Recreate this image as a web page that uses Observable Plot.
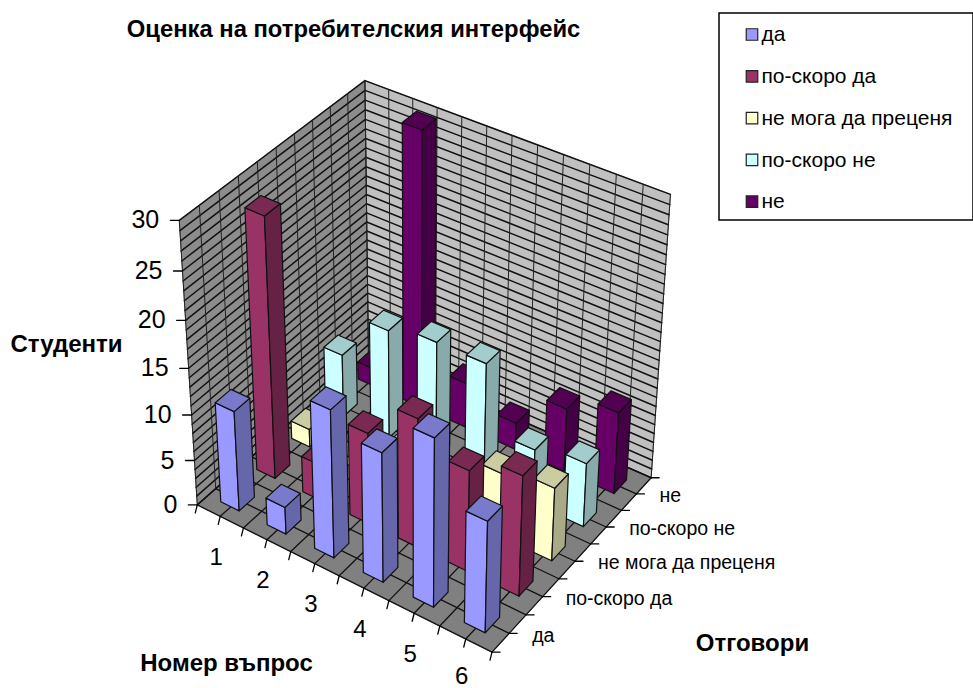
<!DOCTYPE html>
<html><head><meta charset="utf-8">
<script src="https://cdn.jsdelivr.net/npm/d3@7"></script>
<script src="https://cdn.jsdelivr.net/npm/@observablehq/plot@0.6"></script>
<style>html,body{margin:0;padding:0;background:#fff}svg{display:block}</style>
</head><body><div id="chart"></div>
<script>
const questions = ["1","2","3","4","5","6"];
const answers = ["да","по-скоро да","не мога да преценя","по-скоро не","не"];
const yes       = [11, 3, 16, 14, 18, 12];
const ratherYes = [28, 4, 10, 14, 11, 13];
const cannotSay = [2, 1, 4, 3, 7, 8];
const ratherNo  = [7, 12, 13, 13, 6, 7];
const no        = [2, 30, 5, 3, 7, 9];
const series = [yes, ratherYes, cannotSay, ratherNo, no];
const valueTicks = [0,5,10,15,20,25,30];
const colors = ["#9999FF","#993366","#FFFFCC","#CCFFFF","#660066"];
const topColors = ["#7A7ACC","#7A2952","#CCCCA3","#A3CCCC","#520052"];
const sideColors = ["#6666AA","#662244","#AAAA88","#88AAAA","#440044"];
const nU = questions.length, nV = answers.length, nW = 30;

// camera calibrated from the cube corners of the reference (unit cube -> pixels)
const calib = [
  [0,0,0,198,503],[1,0,0,491,653],[1,1,0,652,475],[0,1,0,366,355],
  [0,0,1,178,220],[1,1,1,669,195],[0,1,1,366,79]
];
function solveCamera(pts){
  const A=[],b=[];
  for(const [X,Y,Z,x,y] of pts){
    A.push([X,Y,Z,1,0,0,0,0,-x*X,-x*Y,-x*Z]);b.push(x);
    A.push([0,0,0,0,X,Y,Z,1,-y*X,-y*Y,-y*Z]);b.push(y);
  }
  const n=11,M=[];
  for(let i=0;i<n;i++){
    M.push(new Array(n+1).fill(0));
    for(let j=0;j<n;j++)for(let k=0;k<A.length;k++)M[i][j]+=A[k][i]*A[k][j];
    for(let k=0;k<A.length;k++)M[i][n]+=A[k][i]*b[k];
  }
  for(let c=0;c<n;c++){
    let p=c;for(let r=c+1;r<n;r++)if(Math.abs(M[r][c])>Math.abs(M[p][c]))p=r;
    [M[c],M[p]]=[M[p],M[c]];
    for(let r=0;r<n;r++)if(r!==c){const f=M[r][c]/M[c][c];for(let j=c;j<=n;j++)M[r][j]-=f*M[c][j];}
  }
  return M.map((row,i)=>row[n]/row[i]);
}
const P = solveCamera(calib);
function project(u,v,w){
  const X=u/nU,Y=v/nV,Z=w/nW;
  const d=P[8]*X+P[9]*Y+P[10]*Z+1;
  return [(P[0]*X+P[1]*Y+P[2]*Z+P[3])/d,(P[4]*X+P[5]*Y+P[6]*Z+P[7])/d];
}
let nextId=0;
const faces=[];
function face(pts,fill){const id=nextId++;for(const p of [...pts,pts[0]]){const [x,y]=project(...p);faces.push({id,x,y,fill});}}
const segs=[];
function seg(a,b,kind){const id=nextId++;for(const p of [a,b]){const [x,y]=project(...p);segs.push({id,x,y,kind});}}

// walls and floor
face([[0,0,0],[nU,0,0],[nU,nV,0],[0,nV,0]],"#808080");
face([[0,0,0],[0,nV,0],[0,nV,nW],[0,0,nW]],"#8C8C8C");
face([[0,nV,0],[nU,nV,0],[nU,nV,nW],[0,nV,nW]],"#C0C0C0");
for(let w=0;w<=nW;w++){seg([0,0,w],[0,nV,w],"h");seg([0,nV,w],[nU,nV,w],"h");}
for(let k=0;k<=nV*2;k++){seg([0,k/2,0],[0,k/2,nW],"v");seg([0,k/2,0],[nU,k/2,0],"f");}
for(let k=0;k<=nU*2;k++){seg([k/2,nV,0],[k/2,nV,nW],"v");seg([k/2,0,0],[k/2,nV,0],"f");}

// outer ticks
const ticks=[];
function tick(p,dx,dy){const id=nextId++;const [x,y]=project(...p);ticks.push({id,x,y},{id,x:x+dx,y:y+dy});}
for(const t of valueTicks)tick([0,0,t],-9,0);
for(let k=0;k<=nU*2;k++)tick([k/2,0,0],-2,8);
for(let k=0;k<=nV*2;k++)tick([nU,k/2,0],8,0);

// bars, back to front
const u0=0.28,u1=0.68,v0=0.29,v1=0.71;
const gridEnd=faces.length;
for(let j=nV-1;j>=0;j--)for(let i=0;i<nU;i++){
  const h=series[j][i],a=i+u0,b=i+u1,c=j+v0,e=j+v1;
  face([[a,c,0],[b,c,0],[b,c,h],[a,c,h]],colors[j]);
  face([[b,c,0],[b,e,0],[b,e,h],[b,c,h]],sideColors[j]);
  face([[a,c,h],[b,c,h],[b,e,h],[a,e,h]],topColors[j]);
}
const backFaces=faces.slice(0,gridEnd), frontFaces=faces.slice(gridEnd);

const valueLabels=valueTicks.map(t=>{const [x,y]=project(0,0,t);return {label:String(t),x:x-20,y};});
const questionLabels=questions.map((q,i)=>{const [x,y]=project(i+.5,0,0);return {label:q,x:x-4,y:y+(i===5?37:41)};});
const answerLabels=answers.map((a,j)=>{const [x,y]=project(nU,j+.5,0);return {label:a,x:x+23,y:y+2};});
const legendRows=answers.map((a,j)=>({label:a,y:34+j*41.8}));

const poly=(data,o={})=>Plot.line(data,{x:"x",y:"y",z:"id",fill:"fill",stroke:"#000",strokeWidth:1,curve:"linear",...o});
const chart=Plot.plot({
  width:973,height:688,margin:0,
  x:{domain:[0,973],range:[0,973],axis:null},
  y:{domain:[0,688],range:[0,688],axis:null},
  color:{domain:answers,range:colors},
  style:{background:"#fff",fontFamily:"'Liberation Sans',Arial,sans-serif"},
  marks:[
    poly(backFaces,{stroke:"#777"}),
    Plot.line(segs.filter(d=>d.kind==="h"),{x:"x",y:"y",z:"id",stroke:"#111",strokeWidth:1.5}),
    Plot.line(segs.filter(d=>d.kind==="v"),{x:"x",y:"y",z:"id",stroke:"#222",strokeWidth:1}),
    Plot.line(segs.filter(d=>d.kind==="f"),{x:"x",y:"y",z:"id",stroke:"#111",strokeWidth:1.3}),
    Plot.line(ticks,{x:"x",y:"y",z:"id",stroke:"#000",strokeWidth:1.3}),
    poly(frontFaces,{stroke:"#111",strokeWidth:1.2}),
    Plot.text(valueLabels,{x:"x",y:"y",text:"label",textAnchor:"end",fontSize:25,fill:"#000"}),
    Plot.text(questionLabels,{x:"x",y:"y",text:"label",fontSize:24,fill:"#000"}),
    Plot.text(answerLabels,{x:"x",y:"y",text:"label",textAnchor:"start",fontSize:19.5,fill:"#000"}),
    Plot.text(["Оценка на потребителския интерфейс"],{x:[353],y:[29],text:d=>d,fontSize:23.8,fontWeight:"bold",fill:"#000"}),
    Plot.text(["Студенти"],{x:[66],y:[344],text:d=>d,fontSize:24,fontWeight:"bold",fill:"#000"}),
    Plot.text(["Номер въпрос"],{x:[226],y:[663],text:d=>d,fontSize:24,fontWeight:"bold",fill:"#000"}),
    Plot.text(["Отговори"],{x:[752],y:[643],text:d=>d,fontSize:24,fontWeight:"bold",fill:"#000"}),
    Plot.rect([0],{x1:[719],x2:[973],y1:[13],y2:[220],fill:"#fff",stroke:"#000",strokeWidth:1.5}),
    Plot.dot(legendRows,{x:()=>751.5,y:"y",symbol:"square",r:6.5,fill:"label",stroke:"#222",strokeWidth:1.2}),
    Plot.text(legendRows,{x:()=>761,y:"y",text:"label",textAnchor:"start",fontSize:21,fill:"#000"})
  ]
});
document.getElementById("chart").appendChild(chart);
</script></body></html>
